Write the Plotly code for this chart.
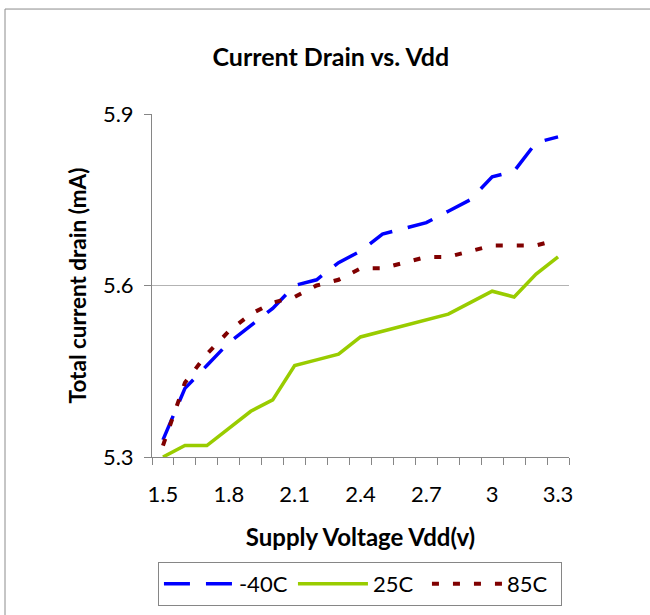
import plotly.graph_objects as go

# supply voltage categories (V)
vdd = [1.5, 1.6, 1.7, 1.8, 1.9, 2.0, 2.1, 2.2, 2.3, 2.4,
       2.5, 2.6, 2.7, 2.8, 2.9, 3.0, 3.1, 3.2, 3.3]

# total current drain (mA) per temperature
i_m40 = [5.33, 5.42, 5.46, 5.50, 5.53, 5.56, 5.60, 5.61, 5.64, 5.66,
         5.69, 5.70, 5.71, 5.73, 5.75, 5.79, 5.80, 5.85, 5.86]
i_25 = [5.30, 5.32, 5.32, 5.35, 5.38, 5.40, 5.46, 5.47, 5.48, 5.51,
        5.52, 5.53, 5.54, 5.55, 5.57, 5.59, 5.58, 5.62, 5.65]
i_85 = [5.32, 5.43, 5.48, 5.52, 5.55, 5.57, 5.58, 5.60, 5.61, 5.63,
        5.63, 5.64, 5.65, 5.65, 5.66, 5.67, 5.67, 5.67, 5.68]

x_ticks = [1.5, 1.8, 2.1, 2.4, 2.7, 3.0, 3.3]
x_tick_text = ['1.5', '1.8', '2.1', '2.4', '2.7', '3', '3.3']
y_ticks = [5.3, 5.6, 5.9]

FONT = 'Lato'
AXIS_GREY = '#868686'

series = [
    ('-40C', i_m40, dict(color='#0000FF', width=3.5, dash='26px,16px')),
    ('25C', i_25, dict(color='#99CC00', width=3.5)),
    ('85C', i_85, dict(color='#800000', width=4, dash='7px,14px')),
]

fig = go.Figure()
for name, vals, line in series:
    fig.add_trace(go.Scatter(x=vdd, y=vals, mode='lines', name=name, line=line))

# category boundaries for the tick marks (Excel style)
bounds = [v - 0.05 for v in vdd] + [vdd[-1] + 0.05]

fig.update_layout(
    width=650, height=615,
    margin=dict(l=152, r=81, t=114, b=158),
    paper_bgcolor='white', plot_bgcolor='white',
    font=dict(family=FONT, size=22, color='black'),
    title=dict(text='Current Drain vs. Vdd', x=0.509, xanchor='center',
               xref='container', y=0.907, yref='container', yanchor='middle',
               font=dict(family=FONT, size=25, weight='bold')),
    xaxis=dict(
        range=[1.45, 3.35], tickmode='array', tickvals=x_ticks, ticktext=x_tick_text,
        ticks='', showgrid=False, showline=True, linecolor=AXIS_GREY, linewidth=1,
        zeroline=False, automargin=False, tickfont=dict(size=22), ticklabelstandoff=18,
        minor=dict(tickmode='array', tickvals=bounds, ticks='outside', ticklen=7,
                   tickcolor=AXIS_GREY, showgrid=False),
        title=dict(text='Supply Voltage Vdd(v)', standoff=22,
                   font=dict(size=24, weight='bold')),
    ),
    yaxis=dict(
        range=[5.3, 5.9], tickmode='array', tickvals=y_ticks,
        ticks='outside', ticklen=7, tickcolor=AXIS_GREY, ticklabelstandoff=6,
        showgrid=True, gridcolor='#B3B3B3', gridwidth=1,
        showline=True, linecolor=AXIS_GREY, linewidth=1,
        zeroline=False, automargin=False, tickfont=dict(size=22),
        title=dict(text='Total current drain (mA)', standoff=10,
                   font=dict(size=22.5, weight='bold')),
    ),
    showlegend=True,
    legend=dict(orientation='h', xref='container', yref='container',
                x=0.243, xanchor='left', y=0.0862, yanchor='top',
                bordercolor=AXIS_GREY, borderwidth=1, bgcolor='white',
                font=dict(size=22), entrywidth=49, itemwidth=70,
                tracegroupgap=0, itemclick=False),
    shapes=[dict(type='rect', xref='paper', yref='paper',
                 x0=-0.3525, x1=1.4, y0=-1.0, y1=1.306,
                 line=dict(color='#8C8C8C', width=1), layer='below')],
)

# drop the default 8px body margin so the figure sits at the window corner
fig.write_html('out.html', config={'displayModeBar': False},
               post_script="document.body.style.margin = '0';")
